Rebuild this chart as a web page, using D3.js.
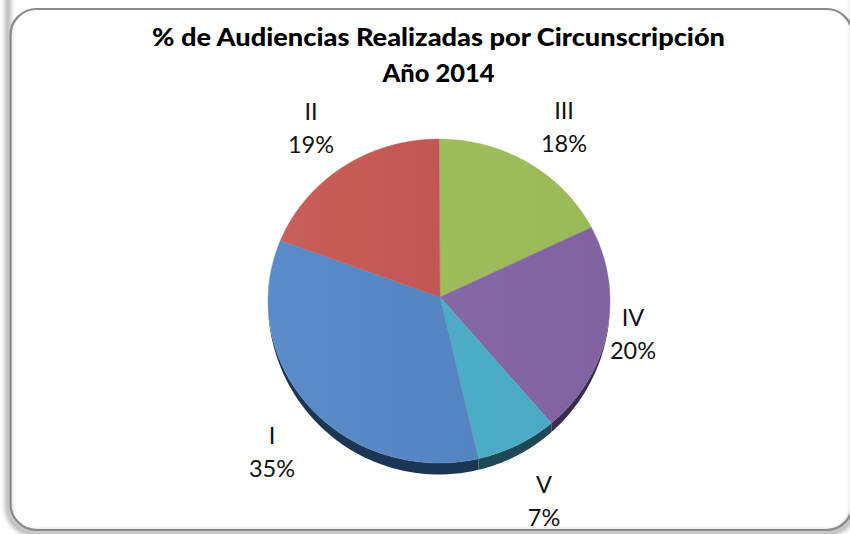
<!DOCTYPE html>
<html><head><meta charset="utf-8">
<script src="https://cdn.jsdelivr.net/npm/d3@7/dist/d3.min.js"></script>
<style>html,body{margin:0;padding:0;background:#fff}svg{display:block}</style>
</head><body><svg id="c" width="850" height="534"></svg>
<script>
const categories = ["III","IV","V","I","II"];
const values = [17.5,21.1,7.7,34.8,18.9];
const percentLabels = ["18%","20%","7%","35%","19%"];
const colorsLight = ["#a3c061","#8a6ca8","#52b2cb","#5b8cc8","#c85f5b"];
const colorsDark = ["#99b957","#7f63a0","#49a8c2","#4e7fbc","#bd4f4c"];
const sideColors = ["#4d5e2c","#3c2c4f","#1d4a55","#1f3554","#5c2624"];
const titleLines = ["% de Audiencias Realizadas por Circunscripción","Año 2014"];

const svg = d3.select("#c");
const defs = svg.append("defs");
const cx = 439, cy = 301, rx = 171, ry = 162, ax = 440, ay = 297, depth = 11.5;

const sh = defs.append("filter").attr("id","frameShadow").attr("x","-3%").attr("y","-3%").attr("width","106%").attr("height","106%");
sh.append("feGaussianBlur").attr("stdDeviation",2.6);
const edge = defs.append("filter").attr("id","edge").attr("x","-3%").attr("y","-3%").attr("width","106%").attr("height","106%");
edge.append("feGaussianBlur").attr("stdDeviation",0.7);
const soft = defs.append("filter").attr("id","soft");
soft.append("feGaussianBlur").attr("stdDeviation",0.5);

svg.append("rect").attr("x",10.5).attr("y",9).attr("width",842).attr("height",521).attr("rx",26)
  .attr("fill","#fff").attr("stroke","none");
svg.append("rect").attr("x",8).attr("y",-30).attr("width",846).attr("height",563).attr("rx",26)
  .attr("fill","none").attr("stroke","#a8a8a8").attr("stroke-width",5).attr("filter","url(#frameShadow)");
svg.append("rect").attr("x",10.5).attr("y",9).attr("width",842).attr("height",521).attr("rx",26)
  .attr("fill","none").attr("stroke","#8a8a8a").attr("stroke-width",2.2).attr("filter","url(#edge)");

categories.forEach((c,i)=>{
  const g = defs.append("linearGradient").attr("id","g"+i).attr("gradientUnits","userSpaceOnUse")
    .attr("x1",cx-rx).attr("x2",cx+rx).attr("y1",cy).attr("y2",cy);
  g.append("stop").attr("offset",0).attr("stop-color",colorsLight[i]);
  g.append("stop").attr("offset",1).attr("stop-color",colorsDark[i]);
});

const arcs = d3.pie().sort(null)(values);
const X = a => cx + rx*Math.sin(a);
const Y = a => cy - ry*Math.cos(a);
const samples = d => d3.range(0,61).map(k => d.startAngle + (d.endAngle-d.startAngle)*k/60);

const plot = svg.append("g").attr("filter","url(#soft)");
plot.selectAll("path.side").data(arcs).join("path").attr("class","side")
  .attr("fill",(d,i)=>sideColors[i])
  .attr("d",d=>{
    const pts = samples(d);
    const top = pts.map(a=>[X(a),Y(a)]);
    const low = pts.slice().reverse().map(a=>[X(a),Y(a)+depth*Math.max(0,-Math.cos(a)+0.15)/1.15]);
    return d3.line()(top.concat(low))+"Z";
  });
plot.selectAll("path.slice").data(arcs).join("path").attr("class","slice")
  .attr("fill",(d,i)=>`url(#g${i})`)
  .attr("stroke",(d,i)=>`url(#g${i})`).attr("stroke-width",0.4)
  .attr("d",d=>d3.line()([[ax,ay]].concat(samples(d).map(a=>[X(a),Y(a)])))+"Z");

const font = "Lato, 'Open Sans', sans-serif";
const titleWidths = [573,112];
svg.selectAll("text.title").data(titleLines).join("text").attr("class","title")
  .attr("x",438.5).attr("y",(d,i)=>46+i*36).attr("text-anchor","middle")
  .attr("font-family",font).attr("font-weight",900).attr("font-size",25).attr("fill","#000")
  .attr("textLength",(d,i)=>titleWidths[i]).attr("lengthAdjust","spacingAndGlyphs")
  .text(d=>d);

const labelPos = [[564,119],[633,326],[544,493],[272,444],[311,120]];
const labels = svg.selectAll("g.lab").data(arcs).join("g").attr("class","lab")
  .attr("font-family",font).attr("font-size",23.5).attr("fill","#111").attr("text-anchor","middle");
labels.append("text").attr("x",(d,i)=>labelPos[i][0]).attr("y",(d,i)=>labelPos[i][1]).text((d,i)=>categories[i]);
labels.append("text").attr("x",(d,i)=>labelPos[i][0]).attr("y",(d,i)=>labelPos[i][1]+33).text((d,i)=>percentLabels[i]);
</script></body></html>
